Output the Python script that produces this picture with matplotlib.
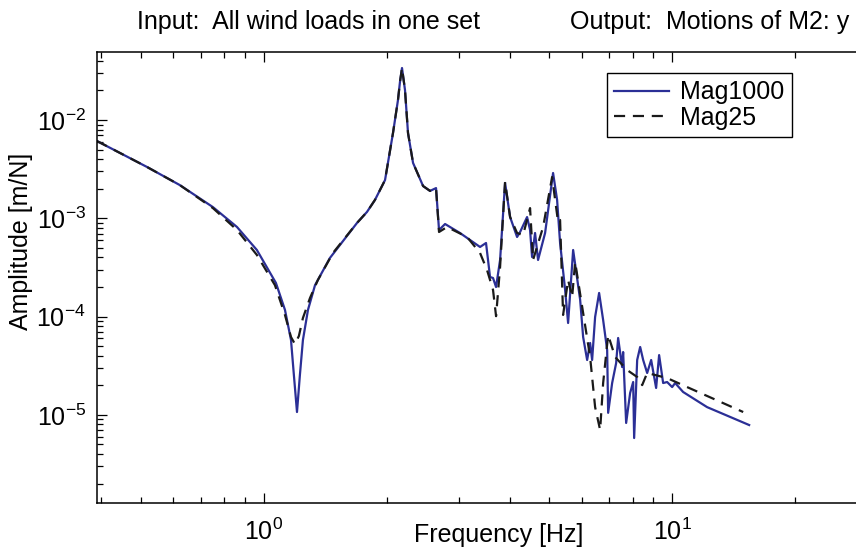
import matplotlib
matplotlib.use("Agg")
import matplotlib.pyplot as plt
from matplotlib.ticker import LogLocator, NullFormatter

plt.rcParams["font.family"] = ["Liberation Sans", "DejaVu Sans"]
plt.rcParams["mathtext.fontset"] = "custom"
plt.rcParams["mathtext.rm"] = "Liberation Sans"
plt.rcParams["mathtext.it"] = "Liberation Sans"

# Mag1000 (solid)
freq_1000 = [0.390, 0.517, 0.622, 0.750, 0.859, 0.961, 1.070, 1.126, 1.165, 1.184,
             1.205, 1.225, 1.246, 1.282, 1.334, 1.451, 1.597, 1.690, 1.788, 1.871,
             1.980, 2.071, 2.130, 2.154, 2.179, 2.216, 2.254, 2.319, 2.454, 2.552,
             2.640, 2.685, 2.778, 3.022, 3.384, 3.500, 3.580, 3.641, 3.704, 3.789,
             3.897, 4.009, 4.170, 4.242, 4.412, 4.487, 4.538, 4.615, 4.694, 4.884,
             5.109, 5.226, 5.315, 5.468, 5.561, 5.721, 5.952, 6.053, 6.191, 6.296,
             6.368, 6.476, 6.624, 6.776, 6.931, 6.970, 7.129, 7.292, 7.374, 7.542,
             7.585, 7.715, 7.890, 8.026, 8.071, 8.210, 8.350, 8.492, 8.686, 8.884,
             9.136, 9.292, 9.505, 9.722, 10.0, 10.17, 10.64, 12.18, 15.44]
amp_1000 = [6.11e-3, 3.33e-3, 2.18e-3, 1.30e-3, 8.16e-4, 4.76e-4, 2.20e-4, 1.17e-4, 5.78e-5, 2.55e-5,
            1.07e-5, 2.55e-5, 5.78e-5, 1.17e-4, 2.09e-4, 3.95e-4, 6.61e-4, 8.96e-4, 1.16e-3, 1.54e-3,
            2.45e-3, 7.38e-3, 1.597e-2, 2.44e-2, 3.38e-2, 2.02e-2, 7.38e-3, 3.66e-3, 2.13e-3, 1.90e-3,
            2.03e-3, 7.61e-4, 8.75e-4, 7.09e-4, 5.11e-4, 5.61e-4, 2.53e-4, 2.47e-4, 2.00e-4, 3.77e-4,
            2.29e-3, 1.03e-3, 6.46e-4, 7.26e-4, 1.03e-3, 7.61e-4, 4.04e-4, 7.09e-4, 3.77e-4, 7.09e-4,
            2.89e-3, 1.54e-3, 5.61e-4, 1.87e-4, 8.61e-5, 4.76e-4, 1.48e-4, 6.20e-5, 3.62e-5, 5.39e-5,
            3.62e-5, 9.91e-5, 1.74e-4, 9.23e-5, 4.57e-5, 1.05e-5, 2.11e-5, 3.37e-5, 6.06e-5, 3.07e-5,
            4.36e-5, 8.28e-6, 1.67e-5, 2.16e-5, 5.82e-6, 3.62e-5, 4.91e-5, 3.62e-5, 2.67e-5, 3.62e-5,
            1.88e-5, 4.06e-5, 2.11e-5, 2.16e-5, 1.92e-5, 2.11e-5, 1.71e-5, 1.20e-5, 7.89e-6]

# Mag25 (dashed)
freq_25 = [0.390, 0.517, 0.622, 0.750, 0.859, 0.961, 1.064, 1.126, 1.165, 1.191,
           1.218, 1.246, 1.297, 1.356, 1.476, 1.690, 1.788, 1.871, 1.980, 2.071,
           2.130, 2.154, 2.179, 2.216, 2.254, 2.319, 2.454, 2.552, 2.640, 2.685,
           2.809, 3.145, 3.384, 3.520, 3.641, 3.704, 3.789, 3.897, 4.009, 4.170,
           4.314, 4.487, 4.563, 4.830, 5.081, 5.255, 5.315, 5.406, 5.561, 5.689,
           5.786, 6.053, 6.296, 6.476, 6.662, 6.776, 6.970, 7.251, 7.758, 8.210,
           8.445, 8.686, 9.722, 10.88, 14.93]
amp_25 = [6.11e-3, 3.33e-3, 2.18e-3, 1.27e-3, 7.61e-4, 4.24e-4, 2.09e-4, 1.04e-4, 6.20e-5, 5.26e-5,
          6.35e-5, 9.68e-5, 1.55e-4, 2.36e-4, 4.44e-4, 8.96e-4, 1.16e-3, 1.54e-3, 2.45e-3, 7.38e-3,
          1.597e-2, 2.44e-2, 3.38e-2, 2.02e-2, 7.38e-3, 3.66e-3, 2.13e-3, 1.90e-3, 2.03e-3, 7.26e-4,
          8.16e-4, 6.46e-4, 4.44e-4, 2.98e-4, 1.87e-4, 1.01e-4, 3.20e-4, 2.34e-3, 1.03e-3, 7.09e-4,
          6.76e-4, 1.27e-3, 3.77e-4, 8.16e-4, 2.63e-3, 9.17e-4, 9.61e-4, 1.04e-4, 2.36e-4, 1.58e-4,
          3.59e-4, 1.09e-4, 3.88e-5, 1.20e-5, 7.02e-6, 2.11e-5, 6.50e-5, 3.88e-5, 2.86e-5, 2.43e-5,
          2.01e-5, 2.67e-5, 2.37e-5, 1.92e-5, 1.07e-5]

fig = plt.figure(figsize=(8.56, 5.52), dpi=100)
ax = fig.add_axes([97 / 856, 1 - 503 / 552, 1.005 - 97 / 856, (503 - 52) / 552])

ax.loglog(freq_1000, amp_1000, color="#2b2f96", lw=1.6, label="Mag1000")
ax.loglog(freq_25, amp_25, color="#1a1a1a", lw=1.6, ls=(0, (5, 3.5)), label="Mag25")

ax.set_xlim(0.39, 28.9)
ax.set_ylim(1.27e-6, 0.0492)

ax.xaxis.set_major_locator(LogLocator(base=10, numticks=10))
ax.xaxis.set_minor_locator(LogLocator(base=10, subs=range(2, 10), numticks=20))
ax.yaxis.set_major_locator(LogLocator(base=10, numticks=10))
ax.yaxis.set_minor_locator(LogLocator(base=10, subs=range(2, 10), numticks=20))
ax.xaxis.set_minor_formatter(NullFormatter())
ax.yaxis.set_minor_formatter(NullFormatter())

ax.tick_params(which="both", direction="in", top=True, right=False, labelsize=18, width=0.9)
ax.tick_params(which="major", length=7, pad=8)
ax.tick_params(axis="x", which="major", pad=11)
ax.tick_params(which="minor", length=4)
for s in ax.spines.values():
    s.set_linewidth(1.1)
ax.spines["right"].set_visible(False)

ax.set_xlabel("Frequency [Hz]", fontsize=18)
ax.xaxis.set_label_coords(0.526, -0.045, transform=ax.transAxes)
ax.xaxis.label.set_va("top")
ax.set_ylabel("Amplitude [m/N]", fontsize=18)
ax.yaxis.set_label_coords(-0.084, 0.579)

leg = ax.legend(loc="upper right", bbox_to_anchor=(792 / 856, 1 - 73 / 552),
                bbox_transform=fig.transFigure, fontsize=18, fancybox=False,
                framealpha=1, edgecolor="black", handlelength=2.2, borderaxespad=0,
                borderpad=0.3, labelspacing=0.05, handletextpad=0.45)
leg.get_frame().set_linewidth(1.0)

fig.text(137 / 856, 1 - 22 / 552, "Input:  All wind loads in one set", fontsize=18,
         ha="left", va="center")
fig.text(570 / 856, 1 - 22 / 552, "Output:  Motions of M2: y", fontsize=18,
         ha="left", va="center")

fig.savefig("out.png", dpi=100)
